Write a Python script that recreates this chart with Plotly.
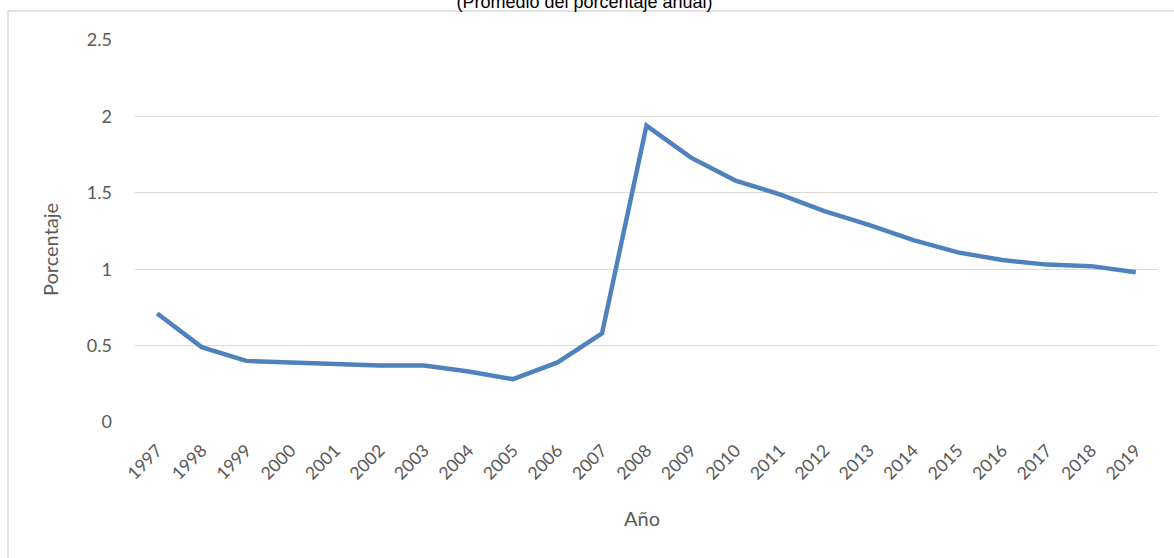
import plotly.graph_objects as go

# Annual average percentage, 1997-2019
years = [str(y) for y in range(1997, 2020)]
porcentaje = [0.71, 0.49, 0.40, 0.39, 0.38, 0.37, 0.37, 0.33, 0.28, 0.39, 0.58,
              1.94, 1.73, 1.58, 1.49, 1.38, 1.29, 1.19, 1.11, 1.06, 1.03, 1.02, 0.98]
y_ticks = [0, 0.5, 1, 1.5, 2, 2.5]
y_tick_labels = ["0", "0.5", "1", "1.5", "2", "2.5"]

W, H = 1174, 558
L, R, T, B = 135, 16, 40, 136
pw, ph = W - L - R, H - T - B

text_gray = "#595959"
grid_gray = "#D9D9D9"
font_family = "Lato, 'Open Sans', sans-serif"

fig = go.Figure()
fig.add_trace(go.Scatter(
    x=years, y=porcentaje, mode="lines",
    line=dict(color="#4F81BD", width=4.5),
    hoverinfo="x+y", showlegend=False,
))

fig.update_layout(
    width=W, height=H,
    margin=dict(l=L, r=R, t=T, b=B, pad=0),
    paper_bgcolor="white", plot_bgcolor="white",
    title=dict(
        text="(Promedio del porcentaje anual)",
        x=(L + pw / 2 - 62) / W, xanchor="center",
        y=1 - 2 / H, yanchor="middle",
        font=dict(family="'Liberation Sans', Arial, sans-serif", size=18, color="#000000"),
    ),
    xaxis=dict(
        type="category", range=[-0.5, len(years) - 0.5], tickangle=-45,
        showgrid=False, showline=False, zeroline=False,
        ticks="", ticklabelstandoff=14,
        tickfont=dict(family=font_family, size=17.5, color=text_gray),
    ),
    yaxis=dict(
        range=[0, 2.5], tickvals=y_ticks, ticktext=y_tick_labels,
        showgrid=True, gridcolor=grid_gray, gridwidth=1.3,
        showline=False, zeroline=False, ticks="",
        ticklabelstandoff=22,
        tickfont=dict(family=font_family, size=18, color=text_gray),
    ),
    shapes=[dict(
        type="rect", xref="paper", yref="paper",
        x0=(8 - L) / pw, x1=(W + 10 - L) / pw,
        y0=-(H + 10 - T - ph) / ph, y1=(H - 11 - B) / ph,
        line=dict(color=grid_gray, width=1.5), fillcolor="rgba(0,0,0,0)", layer="below",
    )],
    annotations=[
        dict(text="Porcentaje", xref="paper", yref="paper",
             x=(50 - L) / pw, y=(H - 250 - B) / ph, textangle=-90,
             xanchor="center", yanchor="middle", showarrow=False,
             font=dict(family=font_family, size=20, color=text_gray)),
        dict(text="Año", xref="paper", yref="paper",
             x=(642 - L) / pw, y=-(518 - (H - B)) / ph,
             xanchor="center", yanchor="middle", showarrow=False,
             font=dict(family=font_family, size=20, color=text_gray)),
    ],
)

fig.write_html("out.html")
